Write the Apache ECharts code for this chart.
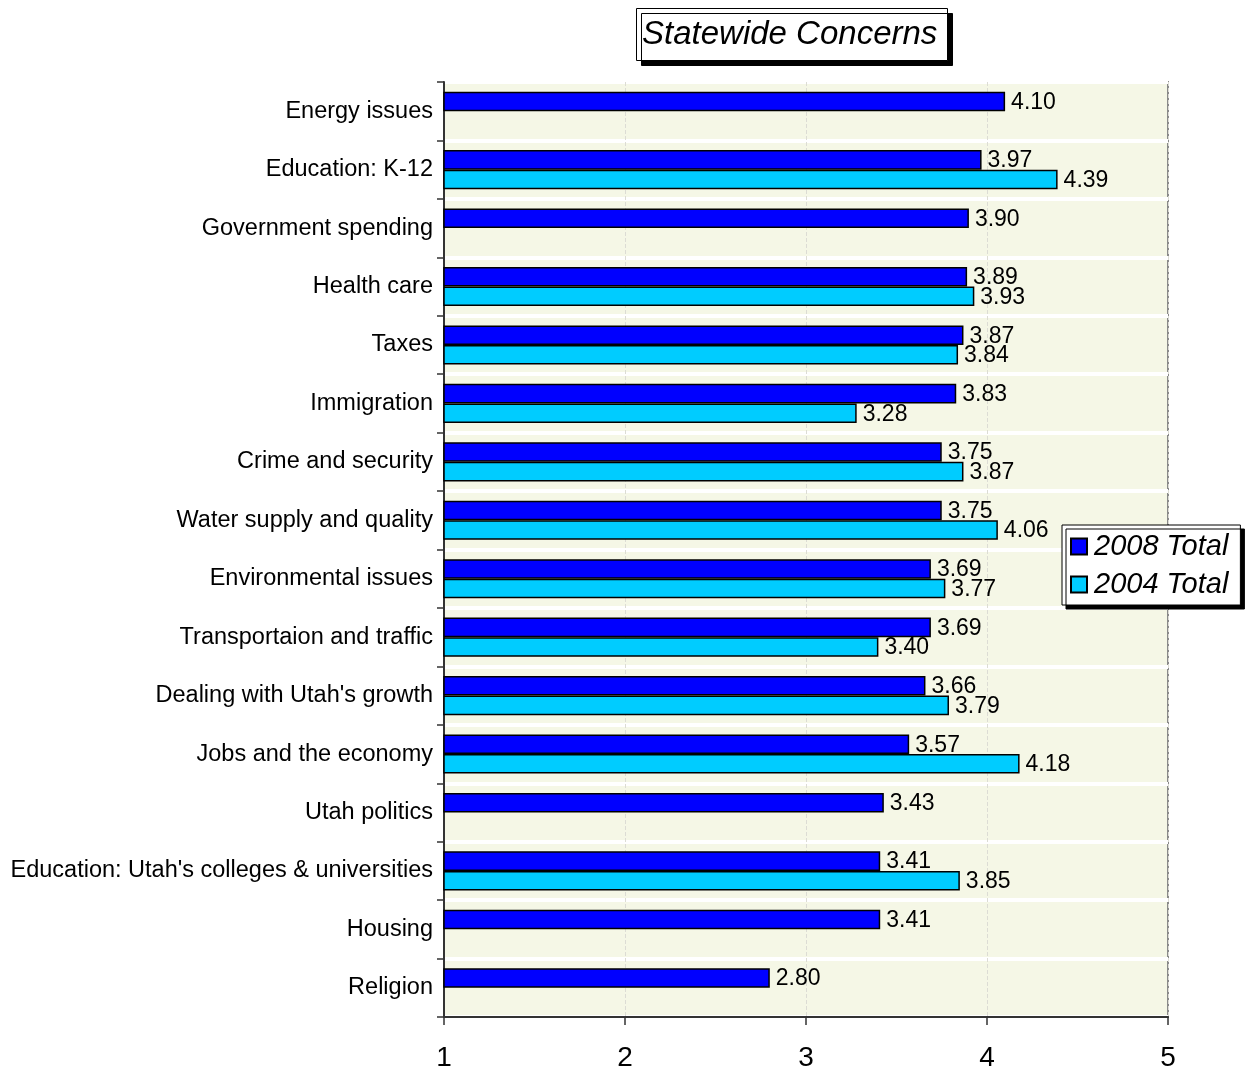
<!DOCTYPE html>
<html>
<head>
<meta charset="utf-8">
<script src="https://cdn.jsdelivr.net/npm/echarts@6/dist/echarts.min.js"></script>
<style>
  html, body { margin: 0; padding: 0; background: #ffffff; }
  #chart { width: 1248px; height: 1072px; }
</style>
</head>
<body>
<div id="chart"></div>
<script>
// Concern categories, listed top to bottom
const categories = [
  'Energy issues',
  'Education: K-12',
  'Government spending',
  'Health care',
  'Taxes',
  'Immigration',
  'Crime and security',
  'Water supply and quality',
  'Environmental issues',
  'Transportaion and traffic',
  "Dealing with Utah's growth",
  'Jobs and the economy',
  'Utah politics',
  "Education: Utah's colleges & universities",
  'Housing',
  'Religion'
];

// Mean concern ratings (null = not asked that year)
const total2008 = [4.10, 3.97, 3.90, 3.89, 3.87, 3.83, 3.75, 3.75, 3.69, 3.69, 3.66, 3.57, 3.43, 3.41, 3.41, 2.80];
const total2004 = [null, 4.39, null, 3.93, 3.84, 3.28, 3.87, 4.06, 3.77, 3.40, 3.79, 4.18, null, 3.85, null, null];

const seriesNames = ['2008 Total', '2004 Total'];
const xTicks = [1, 2, 3, 4, 5];

const FONT = '"Liberation Sans", Arial, sans-serif';

const chart = echarts.init(document.getElementById('chart'), null, { renderer: 'canvas' });

const labelStyle = {
  show: true,
  position: 'right',
  distance: 6,
  offset: [0, 1],
  color: '#000',
  fontFamily: FONT,
  fontSize: 23,
  formatter: p => (p.value == null ? '' : Number(p.value).toFixed(2))
};

chart.setOption({
  animation: false,
  backgroundColor: '#ffffff',
  title: {
    text: 'Statewide Concerns',
    left: 636,
    top: 8,
    padding: [10, 10, 10, 6],
    backgroundColor: '#ffffff',
    borderColor: '#000',
    borderWidth: 1,
    shadowColor: '#000',
    shadowBlur: 0,
    shadowOffsetX: 5,
    shadowOffsetY: 5,
    textStyle: {
      fontFamily: FONT,
      fontSize: 33,
      fontStyle: 'italic',
      fontWeight: 'normal',
      color: '#000'
    }
  },
  legend: {
    orient: 'vertical',
    left: 1062,
    top: 525,
    padding: [7, 12, 6, 8],
    itemGap: 9,
    itemWidth: 16,
    itemHeight: 16,
    icon: 'rect',
    backgroundColor: '#ffffff',
    borderColor: '#000',
    borderWidth: 1,
    shadowColor: '#000',
    shadowBlur: 0,
    shadowOffsetX: 4,
    shadowOffsetY: 4,
    data: seriesNames,
    textStyle: {
      fontFamily: FONT,
      fontSize: 29,
      fontStyle: 'italic',
      color: '#000',
      padding: [0, 0, 0, 2]
    }
  },
  grid: {
    left: 444,
    right: 80,
    top: 82,
    bottom: 53,
    show: true,
    backgroundColor: '#F5F7E6',
    borderColor: '#8a8a8a',
    borderWidth: 2
  },
  xAxis: {
    type: 'value',
    min: 1,
    max: 5,
    interval: 1,
    axisLine: { show: true, lineStyle: { color: '#333', width: 2 } },
    axisTick: { show: true, length: 8, lineStyle: { color: '#333', width: 1.5 } },
    axisLabel: {
      margin: 27,
      fontFamily: FONT,
      fontSize: 28,
      color: '#000',
      formatter: v => (xTicks.includes(v) ? String(v) : '')
    },
    splitLine: { show: true, lineStyle: { color: '#dcdcd4', type: 'dashed', width: 1 } }
  },
  yAxis: {
    type: 'category',
    data: categories,
    inverse: true,
    axisLine: { show: true, lineStyle: { color: '#333', width: 2 } },
    axisTick: { show: true, length: 7, lineStyle: { color: '#333', width: 1.5 } },
    axisLabel: {
      margin: 11,
      fontFamily: FONT,
      fontSize: 23.5,
      color: '#000',
      padding: [4, 0, 0, 0]
    },
    splitLine: { show: true, lineStyle: { color: '#ffffff', width: 4 } }
  },
  series: [
    {
      name: seriesNames[0],
      type: 'bar',
      data: total2008,
      barGap: '0%',
      barCategoryGap: '33%',
      itemStyle: { color: '#0000FF', borderColor: '#000', borderWidth: 1.5 },
      label: labelStyle
    },
    {
      name: seriesNames[1],
      type: 'bar',
      data: total2004,
      barGap: '0%',
      barCategoryGap: '33%',
      itemStyle: { color: '#00CCFF', borderColor: '#000', borderWidth: 1.5 },
      label: labelStyle
    }
  ]
});
</script>
</body>
</html>
